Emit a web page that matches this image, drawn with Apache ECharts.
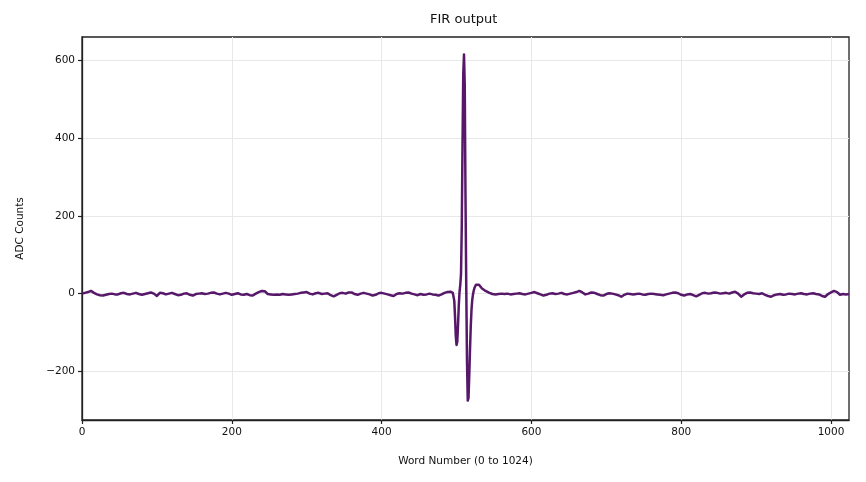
<!DOCTYPE html>
<html>
<head>
<meta charset="utf-8">
<title>FIR output</title>
<script src="https://cdn.jsdelivr.net/npm/echarts@6/dist/echarts.min.js"></script>
<style>
  html, body { margin: 0; padding: 0; background: #fff; }
  #chart { width: 866px; height: 482px; }
</style>
</head>
<body>
<div id="chart"></div>
<script>
// word numbers and FIR output (coarse on the baseline, dense round the pulse)
const wordIdx = [
  0, 4, 8, 12, 16, 20, 24, 28, 32, 36, 40, 44, 48, 52, 56, 60, 64, 68, 72, 76,
  80, 84, 88, 92, 96, 100, 104, 108, 112, 116, 120, 124, 128, 132, 136, 140, 144, 148, 152, 156,
  160, 164, 168, 172, 176, 180, 184, 188, 192, 196, 200, 204, 208, 212, 216, 220, 224, 228, 232, 236,
  240, 244, 248, 252, 256, 260, 264, 268, 272, 276, 280, 284, 288, 292, 296, 300, 304, 308, 312, 316,
  320, 324, 328, 332, 336, 340, 344, 348, 352, 356, 360, 364, 368, 372, 376, 380, 384, 388, 392, 396,
  400, 404, 408, 412, 416, 420, 424, 428, 432, 436, 440, 444, 448, 452, 456, 460, 464, 468, 472, 476,
  480, 484, 488, 492,
  493, 494, 495, 496, 497, 498, 499, 500, 501, 502, 503, 504, 505, 506, 507, 508, 509, 510, 511, 512,
  513, 514, 515, 516, 517, 518, 519, 520, 521, 522, 523, 524, 525, 526, 527, 528, 530, 532, 534, 536,
  538, 540,
  544, 548, 552, 556, 560, 564, 568, 572, 576, 580, 584, 588, 592, 596, 600, 604, 608, 612, 616, 620,
  624, 628, 632, 636, 640, 644, 648, 652, 656, 660, 664, 668, 672, 676, 680, 684, 688, 692, 696, 700,
  704, 708, 712, 716, 720, 724, 728, 732, 736, 740, 744, 748, 752, 756, 760, 764, 768, 772, 776, 780,
  784, 788, 792, 796, 800, 804, 808, 812, 816, 820, 824, 828, 832, 836, 840, 844, 848, 852, 856, 860,
  864, 868, 872, 876, 880, 884, 888, 892, 896, 900, 904, 908, 912, 916, 920, 924, 928, 932, 936, 940,
  944, 948, 952, 956, 960, 964, 968, 972, 976, 980, 984, 988, 992, 996, 1000, 1004, 1008, 1012, 1016, 1020,
  1024
];
const adcCounts = [
  0, 2, 4, 7, 2, -2, -4, -5, -3, -1, 0, -2, -2, 1, 2, -1, -2, 0, 2, -1,
  -3, -1, 1, 3, 0, -6, 2, 1, -2, 0, 2, -1, -4, -3, 0, 1, -3, -5, -1, 0,
  1, -1, 0, 2, 3, 0, -2, 0, 2, 0, -3, -1, 1, -2, -3, -1, -4, -5, 0, 4,
  7, 6, -1, -2, -3, -2, -3, -1, -2, -3, -2, -1, 0, 2, 3, 4, 0, -2, 1, 2,
  -1, 0, 1, -4, -7, -3, 1, 2, 0, 3, 3, -1, -3, 0, 2, 0, -2, -5, -3, 1,
  2, 0, -2, -4, -6, -1, 1, 0, 2, 3, 0, -2, -4, -1, -3, -2, 0, -2, -3, -5,
  -2, 2, 4, 5,
  4, 3, 2, 0, -18, -58, -108, -132, -124, -82, -32, 4, 22, 50, 170, 380, 565, 615, 535, 250,
  20, -175, -275, -268, -212, -145, -85, -42, -16, -2, 8, 15, 20, 23, 24, 25, 23, 18, 13, 11,
  8, 5,
  2, -1, -2, -1, 0, -1, 0, -2, -1, 0, 1, -1, -2, 0, 2, 4, 1, -2, -5, -3,
  0, 1, -1, 0, 2, -1, -2, 0, 2, 4, 7, 3, -2, 0, 3, 2, -1, -4, -5, -1,
  1, 0, -2, -4, -8, -3, 0, -1, -2, -1, 0, -2, -3, -1, 0, -1, -2, -3, -4, -2,
  0, 2, 3, 1, -3, -5, -2, -1, -4, -7, -3, 1, 2, 0, 1, 3, 2, 0, 1, 2,
  0, 3, 5, 0, -8, -2, 2, 3, 1, 0, -1, 1, -3, -6, -8, -4, -2, -1, -3, -2,
  0, -1, -2, 0, 1, -1, -2, 0, 1, -1, -2, -6, -8, -1, 3, 7, 4, -3, -1, -2,
  -1
];
const xTicks = [0, 200, 400, 600, 800, 1000];
const yTicks = [-200, 0, 200, 400, 600];

const chart = echarts.init(document.getElementById('chart'));
const font = 'DejaVu Sans';
const ink = '#222';

const axisCommon = {
    axisLine: { show: true, onZero: false, lineStyle: { color: ink, width: 1.3 } },
    axisLabel: { fontFamily: font, fontSize: 10.5, color: '#111', margin: 7 },
    splitLine: { show: true, lineStyle: { color: '#e8e8e8', width: 1 } },
    nameTextStyle: { fontFamily: font, fontSize: 10.5, color: '#111' }
};

const option = {
    animation: false,
    backgroundColor: '#fff',
    title: {
        text: 'FIR output',
        left: 430,
        top: 13,
        padding: 0,
        textStyle: { fontFamily: font, fontSize: 13, fontWeight: 'normal', color: '#111' }
    },
    grid: {
        left: 82, right: 17, top: 37, bottom: 62,
        containLabel: false,
        outerBoundsMode: 'none',
        show: true,
        borderColor: ink,
        borderWidth: 1.3,
        backgroundColor: '#fff'
    },
    xAxis: {
        ...axisCommon,
        type: 'value',
        min: 0,
        max: 1024,
        name: 'Word Number (0 to 1024)',
        nameLocation: 'middle',
        nameGap: 36,
        axisTick: { show: true, customValues: xTicks, length: 4, lineStyle: { color: ink, width: 1.2 } },
        axisLabel: { ...axisCommon.axisLabel, customValues: xTicks, formatter: v => String(v) },
        splitLine: { ...axisCommon.splitLine, customValues: xTicks }
    },
    yAxis: {
        ...axisCommon,
        type: 'value',
        min: -325,
        max: 660,
        name: 'ADC Counts',
        nameLocation: 'middle',
        nameGap: 56,
        axisTick: { show: true, customValues: yTicks, length: 4, lineStyle: { color: ink, width: 1.2 } },
        axisLabel: {
            ...axisCommon.axisLabel,
            customValues: yTicks,
            formatter: v => (v < 0 ? '\u2212' + Math.abs(v) : String(v))
        },
        splitLine: { ...axisCommon.splitLine, customValues: yTicks }
    },
    series: [{
        type: 'line',
        data: wordIdx.map((w, i) => [w, adcCounts[i]]),
        showSymbol: false,
        smooth: false,
        lineStyle: { color: '#57186a', width: 2.5, join: 'round' },
        itemStyle: { color: '#57186a' },
        z: 3
    }]
};

chart.setOption(option);
window.addEventListener('resize', () => chart.resize());
</script>
</body>
</html>
